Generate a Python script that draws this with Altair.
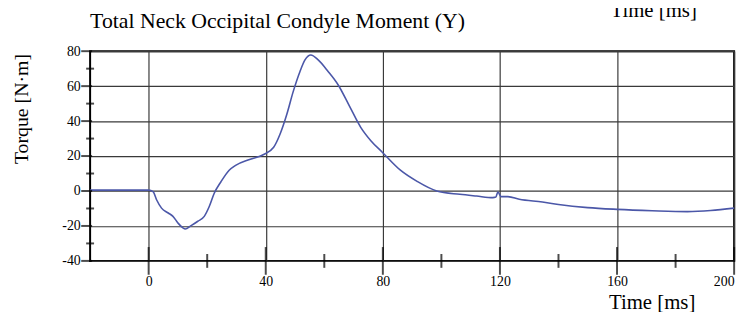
import altair as alt
import pandas as pd

# ---- data ----
time_ms = [-20, 0, 1.5, 2.7, 4.4, 6.7, 8.3, 10, 11.7, 12.5,
           14.5, 16.8, 19, 20.7, 22.4, 24.7, 27.5, 29.7, 34.2, 39.3,
           42.7, 44.9, 47.2, 49.4, 51.7, 53.4, 55.4, 57.9, 61.3, 64.7,
           68.6, 72.5, 75.9, 79.8, 86, 91.7, 98.4, 106.3, 112, 117.6,
           118.6, 119.3, 120.4, 122.6, 126.6, 134.5, 140, 150, 160, 172,
           184, 192, 200]
torque_nm = [0.5, 0.5, -0.4, -5, -9.8, -12.6, -14.5, -18.3, -21.1, -21.7,
             -19.8, -17.3, -14.5, -8.9, -1.3, 5.3, 11.9, 14.7, 17.9, 20.9,
             25, 32.6, 43.9, 57, 68.4, 75, 77.8, 75, 68.4, 60.8,
             48.6, 36.3, 28.8, 22.2, 11.9, 5.5, 0, -1.9, -2.9, -3.8,
             -3.5, -0.6, -3.2, -3.2, -4.7, -6.3, -7.7, -9.5, -10.5, -11.3,
             -11.8, -11.2, -9.8]

x_major = [0, 40, 80, 120, 160, 200]
x_minor = [20, 60, 100, 140, 180]
y_major = [-40, -20, 0, 20, 40, 60, 80]
y_minor = [-30, -10, 10, 30, 50, 70]

chart_title = ["Total Neck Occipital Condyle Moment (Y)"]
x_title = "Time [ms]"
y_title = "Torque [N·m]"
top_remnant = ["Time [ms]"]

W, H = 651, 212
SERIF = "Liberation Serif"

xscale = alt.Scale(domain=[-20, 200], nice=False, zero=False)
yscale = alt.Scale(domain=[-40, 80], nice=False, zero=False)

x_axis = alt.Axis(
    values=x_major, title=x_title, grid=True, gridColor="#3a3a3a", gridWidth=1.2,
    ticks=False, tickSize=0, domain=False, labelPadding=14, labelFontSize=14,
    labelExpr="'' + datum.value",
    labelFont=SERIF, labelColor="black", titleFont=SERIF, titleFontSize=21,
    titleFontWeight="normal", titleColor="black", titleX=524, titleY=48,
    titleAlign="left", titleBaseline="alphabetic")
y_axis = alt.Axis(
    values=y_major, title=y_title, grid=True, gridColor="#3a3a3a", gridWidth=1.2,
    ticks=False, tickSize=0, domain=False, labelPadding=10, labelFontSize=14,
    labelExpr="'' + datum.value",
    labelFont=SERIF, labelColor="black", titleFont=SERIF, titleFontSize=20,
    titleFontWeight="normal", titleColor="black", titleAngle=270,
    titleX=-69, titleY=58, titleAlign="center", titleBaseline="middle")

curve_df = pd.DataFrame({"t": time_ms, "v": torque_nm})

line = alt.Chart(curve_df).mark_line(
    color="#4b57a8", strokeWidth=1.6, interpolate="monotone"
).encode(
    x=alt.X("t:Q", scale=xscale, axis=x_axis),
    y=alt.Y("v:Q", scale=yscale, axis=y_axis),
)

xmaj = alt.Chart(pd.DataFrame({"t": x_major})).mark_tick(
    color="black", thickness=2, size=28
).encode(x=alt.X("t:Q", scale=xscale, axis=x_axis), y=alt.value(H))

xmin = alt.Chart(pd.DataFrame({"t": x_minor})).mark_tick(
    color="black", thickness=2, size=14
).encode(x=alt.X("t:Q", scale=xscale, axis=x_axis), y=alt.value(H))

ymaj = alt.Chart(pd.DataFrame({"v": y_major})).mark_tick(
    color="black", thickness=2, size=11
).encode(y=alt.Y("v:Q", scale=yscale, axis=y_axis), x=alt.value(-3.5))

ymin = alt.Chart(pd.DataFrame({"v": y_minor})).mark_tick(
    color="black", thickness=2, size=8
).encode(y=alt.Y("v:Q", scale=yscale, axis=y_axis), x=alt.value(0))

title_txt = alt.Chart(pd.DataFrame({"label": chart_title})).mark_text(
    align="left", baseline="alphabetic", font=SERIF, fontSize=22, color="black"
).encode(text="label:N", x=alt.value(0), y=alt.value(-23))

top_txt = alt.Chart(pd.DataFrame({"label": top_remnant})).mark_text(
    align="left", baseline="alphabetic", font=SERIF, fontSize=21, color="black"
).encode(text="label:N", x=alt.value(526), y=alt.value(-35))

chart = alt.layer(line, xmaj, xmin, ymaj, ymin, title_txt, top_txt).properties(
    width=W, height=H,
    autosize=alt.AutoSizeParams(type="none"),
    padding={"left": 83, "top": 42, "right": 12, "bottom": 50},
    background="white",
).configure_view(stroke="black", strokeWidth=2).configure_axis(
    labelFont=SERIF, titleFont=SERIF
)

chart.save("out.html", embed_options={"renderer": "svg", "actions": False})
